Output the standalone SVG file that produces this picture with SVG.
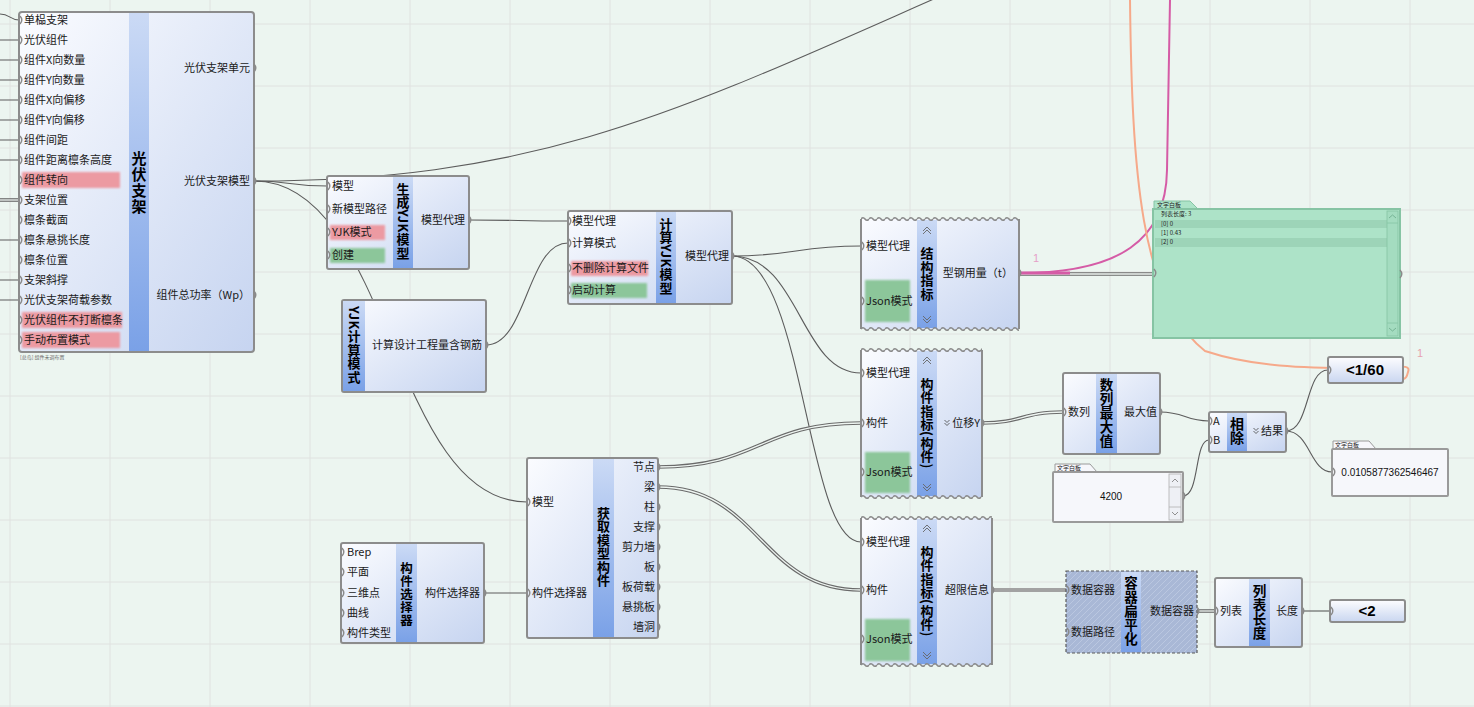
<svg xmlns="http://www.w3.org/2000/svg" width="1474" height="707" viewBox="0 0 1474 707">
<defs>
<linearGradient id="gBox" x1="0" y1="0" x2="1" y2="1"><stop offset="0" stop-color="#fbfcff"/><stop offset="1" stop-color="#c6d4f0"/></linearGradient>
<linearGradient id="gBand" x1="0" y1="0" x2="0" y2="1"><stop offset="0" stop-color="#cbdaf5"/><stop offset="1" stop-color="#7aa1e7"/></linearGradient>
<linearGradient id="gVal" x1="0" y1="0" x2="0" y2="1"><stop offset="0" stop-color="#fdfdff"/><stop offset="1" stop-color="#c9d6f0"/></linearGradient>
<pattern id="hatch" patternUnits="userSpaceOnUse" width="6" height="6"><rect width="6" height="6" fill="#a9b8d6"/><path d="M0,6 L6,0" stroke="#bac7e0" stroke-width="1"/></pattern>
<pattern id="wave" patternUnits="userSpaceOnUse" width="8" height="6"><path d="M0,3 q2,-2.6 4,0 t4,0" fill="none" stroke="#8a8a8a" stroke-width="1.6"/></pattern>
<filter id="soft" x="-10%" y="-30%" width="120%" height="160%"><feGaussianBlur stdDeviation="0.9"/></filter>
<path id="p" d="M0,-4 q3.6,4 0,8" fill="none" stroke="#8a8a8a" stroke-width="1.4"/>
<path id="up" d="M-4,2 l4,-4 l4,4 M-4,5 l4,-4 l4,4" fill="none" stroke="#666" stroke-width="0.9"/>
<path id="dn" d="M-4,-5 l4,4 l4,-4 M-4,-2 l4,4 l4,-4" fill="none" stroke="#666" stroke-width="0.9"/>
<path id="vv" d="M-2.5,-3 l2.5,2.5 l2.5,-2.5 M-2.5,0 l2.5,2.5 l2.5,-2.5" fill="none" stroke="#444" stroke-width="0.8"/>
</defs>
<style>
.t{font-family:"Noto Sans CJK SC","Noto Sans",sans-serif;font-size:11px;fill:#1a1a1a}
.e{text-anchor:end}
.ttl{font-family:"Noto Sans CJK SC","Noto Sans",sans-serif;font-weight:bold;fill:#000;writing-mode:vertical-rl;text-anchor:middle;letter-spacing:0.5px}
.box{fill:url(#gBox);stroke:#8c8c8c;stroke-width:2}
.band{fill:url(#gBand)}
.w{fill:none;stroke:#5c5c5c;stroke-width:1.1}
.wo{fill:none;stroke:#6a6a6a;stroke-width:3.6}
.wi{fill:none;stroke:#eef5f1;stroke-width:1.3}
.red{fill:#ec9aa2;filter:url(#soft)}
.grn{fill:#8cc69a;filter:url(#soft)}
.panel{fill:#f6f7fb;stroke:#9a9a9a;stroke-width:2}
.tab{fill:#f6f7fb;stroke:#9a9a9a;stroke-width:1}
.tiny{font-family:"Noto Sans CJK SC",sans-serif;font-size:6px;fill:#222}
.num{font-family:"Liberation Sans",sans-serif;font-size:10px;fill:#111;text-anchor:middle}
.val{fill:url(#gVal);stroke:#8c8c8c;stroke-width:2}
.vt{font-family:"Liberation Sans",sans-serif;font-weight:bold;font-size:15px;text-anchor:middle;fill:#000}
.side{stroke:#8c8c8c;stroke-width:2;fill:none}
.grid{stroke:#e0e2e0;stroke-width:1}
</style>
<rect width="1474" height="707" fill="#ecf5f0"/>
<g id="grid" class="grid">
<path d="M10,0V707M110,0V707M210,0V707M310,0V707M410,0V707M510,0V707M610,0V707M710,0V707M810,0V707M910,0V707M1010,0V707M1110,0V707M1210,0V707M1310,0V707M1410,0V707"/>
<path d="M0,24H1474M0,86H1474M0,148H1474M0,210H1474M0,272H1474M0,334H1474M0,396H1474M0,458H1474M0,520H1474M0,582H1474M0,644H1474M0,706H1474"/>
</g>

<g id="connectors">
<path class="w" d="M0,14 C10,14 10,20 19,20 M0,40H19 M0,60H19 M0,80H19 M0,100H19 M0,120H19 M0,140H19 M0,160H19 M0,240H19 M0,280H19 M0,300H19"/>
<path class="wo" d="M0,200H19"/><path class="wi" d="M0,200H19"/>
<path class="w" d="M254,181 C290,181 290,186 327,186"/>
<path class="w" d="M254,181 C560,181 700,100 1000,-30"/>
<path class="w" d="M254,181 C391,181 391,502 527,502"/>
<path class="w" d="M469,220 C518,220 518,221 568,221"/>
<path class="w" d="M486,345 C527,345 527,243 568,243"/>
<path class="w" d="M732,256 C796,256 796,246 861,246"/>
<path class="w" d="M732,256 C800,256 800,373 861,373"/>
<path class="w" d="M732,256 C805,256 805,542 861,542"/>
<path class="wo" d="M658,467 C760,467 760,423 861,423"/><path class="wi" d="M658,467 C760,467 760,423 861,423"/>
<path class="wo" d="M658,487 C760,487 760,590 861,590"/><path class="wi" d="M658,487 C760,487 760,590 861,590"/>
<path class="w" d="M484,593H527"/>
<path class="wo" d="M982,423 C1022,423 1022,412 1063,412"/><path class="wi" d="M982,423 C1022,423 1022,412 1063,412"/>
<path class="w" d="M1160,412 C1185,412 1185,421 1209,421"/>
<path class="w" d="M1183,496 C1200,496 1194,440 1209,440"/>
<path class="w" d="M1286,431 C1310,431 1305,370 1328,370"/>
<path class="w" d="M1286,431 C1310,431 1310,472 1332,472"/>
<path fill="none" stroke="#a2a2a2" stroke-width="4" d="M992,590H1066"/>
<path class="wo" d="M1197,611H1215"/><path class="wi" d="M1197,611H1215"/>
<path class="w" d="M1302,611H1330"/>
<path class="wo" d="M1019,274H1153"/><path class="wi" d="M1019,274H1153"/>
<path fill="none" stroke="#d55ba6" stroke-width="2" d="M1019,273 C1120,273 1166,240 1167,170 C1168,110 1169,50 1170,0"/>
<path fill="none" stroke="#d55ba6" stroke-width="3" d="M1019,273 H1070"/>
<path fill="none" stroke="#f6a98a" stroke-width="2" d="M1130,0 C1132,170 1140,300 1205,351 C1250,366 1300,369 1380,368 C1400,367 1411,364 1408,372 C1407,377 1405,379 1403,379"/>
</g>

<g id="n-guangfu">
<rect class="box" x="19" y="12" width="235" height="340" rx="3"/>
<rect class="band" x="129" y="13" width="20" height="338"/>
<rect class="red" x="22" y="172" width="98" height="16"/>
<rect class="red" x="22" y="312" width="100" height="16"/>
<rect class="red" x="22" y="332" width="98" height="16"/>
<text class="ttl" x="139" y="183" font-size="15" style="letter-spacing:1px">光伏支架</text>
<g class="t">
<text x="24" y="24">单榀支架</text><text x="24" y="44">光伏组件</text><text x="24" y="64">组件X向数量</text><text x="24" y="84">组件Y向数量</text>
<text x="24" y="104">组件X向偏移</text><text x="24" y="124">组件Y向偏移</text><text x="24" y="144">组件间距</text><text x="24" y="164">组件距离檩条高度</text>
<text x="24" y="184">组件转向</text><text x="24" y="204">支架位置</text><text x="24" y="224">檩条截面</text><text x="24" y="244">檩条悬挑长度</text>
<text x="24" y="264">檩条位置</text><text x="24" y="284">支架斜撑</text><text x="24" y="304">光伏支架荷载参数</text><text x="24" y="324">光伏组件不打断檩条</text>
<text x="24" y="344">手动布置模式</text>
<text class="e" x="250" y="72">光伏支架单元</text><text class="e" x="250" y="185">光伏支架模型</text><text class="e" x="250" y="299">组件总功率（Wp）</text>
</g>
<use href="#p" x="20" y="20"/><use href="#p" x="20" y="40"/><use href="#p" x="20" y="60"/><use href="#p" x="20" y="80"/><use href="#p" x="20" y="100"/><use href="#p" x="20" y="120"/><use href="#p" x="20" y="140"/><use href="#p" x="20" y="160"/><use href="#p" x="20" y="180"/><use href="#p" x="20" y="200"/><use href="#p" x="20" y="220"/><use href="#p" x="20" y="240"/><use href="#p" x="20" y="260"/><use href="#p" x="20" y="280"/><use href="#p" x="20" y="300"/><use href="#p" x="20" y="320"/><use href="#p" x="20" y="340"/>
<use href="#p" x="254" y="68"/><use href="#p" x="254" y="181"/><use href="#p" x="254" y="295"/>
<text x="20" y="359" font-family="Noto Sans CJK SC,sans-serif" font-size="5" fill="#666">[总岛] 组件未调布置</text>
</g>

<g id="n-shengcheng">
<rect class="box" x="327" y="176" width="142" height="93" rx="2"/>
<rect class="band" x="393" y="177" width="20" height="91"/>
<rect class="red" x="330" y="225" width="55" height="15"/>
<rect class="grn" x="330" y="248" width="55" height="15"/>
<text class="ttl" x="403" y="221" font-size="13">生成YJK模型</text>
<g class="t"><text x="332" y="190">模型</text><text x="332" y="213">新模型路径</text><text x="332" y="236">YJK模式</text><text x="332" y="259">创建</text><text class="e" x="465" y="224">模型代理</text></g>
<use href="#p" x="328" y="186"/><use href="#p" x="328" y="209"/><use href="#p" x="328" y="232"/><use href="#p" x="328" y="255"/><use href="#p" x="469" y="220"/>
</g>

<g id="n-yjkmode">
<rect class="box" x="342" y="300" width="144" height="92" rx="2"/>
<rect class="band" x="343" y="301" width="22" height="90"/>
<text class="ttl" x="354" y="345" font-size="13">YJK计算模式</text>
<text class="t e" x="482" y="349">计算设计工程量含钢筋</text>
<use href="#p" x="486" y="345"/>
</g>

<g id="n-jisuan">
<rect class="box" x="568" y="211" width="164" height="93" rx="2"/>
<rect class="band" x="656" y="212" width="20" height="91"/>
<rect class="red" x="571" y="261" width="77" height="15"/>
<rect class="grn" x="571" y="283" width="76" height="15"/>
<text class="ttl" x="666" y="256" font-size="13">计算YJK模型</text>
<g class="t"><text x="572" y="225">模型代理</text><text x="572" y="247">计算模式</text><text x="572" y="272">不删除计算文件</text><text x="572" y="294">启动计算</text><text class="e" x="729" y="260">模型代理</text></g>
<use href="#p" x="569" y="221"/><use href="#p" x="569" y="243"/><use href="#p" x="569" y="268"/><use href="#p" x="569" y="290"/><use href="#p" x="732" y="256"/>
</g>

<g id="n-jiegou">
<rect x="861" y="219" width="158" height="110" fill="url(#gBox)"/>
<rect class="band" x="917" y="220" width="20" height="108"/>
<path class="side" d="M861,219V329M1019,219V329"/>
<rect transform="translate(861,216)" width="158" height="6" fill="url(#wave)"/>
<rect transform="translate(861,326)" width="158" height="6" fill="url(#wave)"/>
<rect class="grn" x="865" y="280" width="45" height="42"/>
<use href="#up" x="927" y="229"/><use href="#dn" x="927" y="321"/>
<text class="ttl" x="927" y="274" font-size="13">结构指标</text>
<g class="t"><text x="866" y="250">模型代理</text><text x="866" y="305">Json模式</text><text class="e" x="1013" y="277">型钢用量（t）</text></g>
<use href="#p" x="862" y="246"/><use href="#p" x="862" y="301"/><use href="#p" x="1019" y="273"/>
</g>

<g id="n-goujian1">
<rect x="861" y="350" width="121" height="147" fill="url(#gBox)"/>
<rect class="band" x="917" y="351" width="20" height="145"/>
<path class="side" d="M861,350V497M982,350V497"/>
<rect transform="translate(861,347)" width="121" height="6" fill="url(#wave)"/>
<rect transform="translate(861,494)" width="121" height="6" fill="url(#wave)"/>
<rect class="grn" x="865" y="452" width="45" height="41"/>
<use href="#up" x="927" y="359"/><use href="#dn" x="927" y="489"/>
<text class="ttl" x="927" y="423" font-size="13">构件指标(构件)</text>
<use href="#vv" x="947" y="423"/>
<g class="t"><text x="866" y="377">模型代理</text><text x="866" y="427">构件</text><text x="866" y="476">Json模式</text><text class="e" x="980" y="427">位移Y</text></g>
<use href="#p" x="862" y="373"/><use href="#p" x="862" y="423"/><use href="#p" x="862" y="472"/><use href="#p" x="982" y="423"/>
</g>

<g id="n-goujian2">
<rect x="861" y="518" width="131" height="147" fill="url(#gBox)"/>
<rect class="band" x="917" y="519" width="20" height="145"/>
<path class="side" d="M861,518V665M992,518V665"/>
<rect transform="translate(861,515)" width="131" height="6" fill="url(#wave)"/>
<rect transform="translate(861,662)" width="131" height="6" fill="url(#wave)"/>
<rect class="grn" x="865" y="619" width="45" height="42"/>
<use href="#up" x="927" y="527"/><use href="#dn" x="927" y="657"/>
<text class="ttl" x="927" y="591" font-size="13">构件指标(构件)</text>
<g class="t"><text x="866" y="546">模型代理</text><text x="866" y="594">构件</text><text x="866" y="643">Json模式</text><text class="e" x="989" y="594">超限信息</text></g>
<use href="#p" x="862" y="542"/><use href="#p" x="862" y="590"/><use href="#p" x="862" y="639"/><use href="#p" x="992" y="590"/>
</g>

<g id="n-max">
<rect class="box" x="1063" y="373" width="97" height="81" rx="2"/>
<rect class="band" x="1096" y="374" width="21" height="79"/>
<text class="ttl" x="1106.5" y="413" font-size="13.5">数列最大值</text>
<g class="t"><text x="1068" y="416">数列</text><text class="e" x="1157" y="416">最大值</text></g>
<use href="#p" x="1064" y="412"/><use href="#p" x="1160" y="412"/>
</g>

<g id="n-div">
<rect class="box" x="1209" y="412" width="77" height="40" rx="2"/>
<rect class="band" x="1227" y="413" width="20" height="38"/>
<text class="ttl" x="1237" y="431" font-size="14" style="letter-spacing:0">相除</text>
<use href="#vv" x="1256" y="431"/>
<g class="t"><text x="1213" y="425">A</text><text x="1213" y="444">B</text><text class="e" x="1283" y="435">结果</text></g>
<use href="#p" x="1210" y="421"/><use href="#p" x="1210" y="440"/><use href="#p" x="1286" y="431"/>
</g>

<g id="n-lt60">
<rect class="val" x="1328" y="357" width="75" height="26" rx="2"/>
<text class="vt" x="1365" y="375">&lt;1/60</text>
<use href="#p" x="1329" y="370"/>
<text x="1417" y="357" font-family="Liberation Sans,sans-serif" font-size="11" fill="#e7a2ae">1</text>
</g>

<g id="n-result">
<path class="tab" d="M1333,449 V441 H1369 L1376,449"/>
<text class="tiny" x="1335" y="447">文字白板</text>
<rect class="panel" x="1332" y="449" width="116" height="47" rx="1"/>
<text class="num" x="1390" y="476">0.0105877362546467</text>
<use href="#p" x="1333" y="472"/>
</g>

<g id="n-4200">
<path class="tab" d="M1055,472 V464 H1090 L1097,472"/>
<text class="tiny" x="1057" y="470">文字白板</text>
<rect class="panel" x="1053" y="472" width="130" height="50" rx="1"/>
<rect x="1169" y="474" width="12" height="46" fill="#eef0f5" stroke="#b0b0b0" stroke-width="0.8"/>
<path d="M1169,487H1181M1169,507H1181" stroke="#b0b0b0" stroke-width="0.8"/>
<path d="M1172,482 l3,-3 l3,3 M1172,512 l3,3 l3,-3" fill="none" stroke="#777" stroke-width="0.8"/>
<text class="num" x="1111" y="500">4200</text>
<use href="#p" x="1183" y="496"/>
</g>

<g id="n-huoqu">
<rect class="box" x="527" y="458" width="131" height="180" rx="2"/>
<rect class="band" x="593" y="459" width="21" height="178"/>
<text class="ttl" x="603.5" y="547" font-size="13">获取模型构件</text>
<g class="t"><text x="532" y="506">模型</text><text x="532" y="597">构件选择器</text>
<text class="e" x="655" y="471">节点</text><text class="e" x="655" y="491">梁</text><text class="e" x="655" y="511">柱</text><text class="e" x="655" y="531">支撑</text><text class="e" x="655" y="551">剪力墙</text><text class="e" x="655" y="571">板</text><text class="e" x="655" y="591">板荷载</text><text class="e" x="655" y="611">悬挑板</text><text class="e" x="655" y="631">墙洞</text></g>
<use href="#p" x="528" y="502"/><use href="#p" x="528" y="593"/>
<use href="#p" x="658" y="467"/><use href="#p" x="658" y="487"/><use href="#p" x="658" y="507"/><use href="#p" x="658" y="527"/><use href="#p" x="658" y="547"/><use href="#p" x="658" y="567"/><use href="#p" x="658" y="587"/><use href="#p" x="658" y="607"/><use href="#p" x="658" y="627"/>
</g>

<g id="n-xuanze">
<rect class="box" x="341" y="543" width="143" height="100" rx="2"/>
<rect class="band" x="396" y="544" width="21" height="98"/>
<text class="ttl" x="406.5" y="594" font-size="12.5">构件选择器</text>
<g class="t"><text x="347" y="556">Brep</text><text x="347" y="576">平面</text><text x="347" y="597">三维点</text><text x="347" y="617">曲线</text><text x="347" y="637">构件类型</text><text class="e" x="480" y="597">构件选择器</text></g>
<use href="#p" x="342" y="552"/><use href="#p" x="342" y="572"/><use href="#p" x="342" y="593"/><use href="#p" x="342" y="613"/><use href="#p" x="342" y="633"/><use href="#p" x="484" y="593"/>
</g>

<g id="n-flatten">
<rect x="1066" y="571" width="131" height="82" fill="url(#hatch)" stroke="#5a5a5a" stroke-width="1.2" stroke-dasharray="3,2"/>
<rect class="band" x="1121" y="572" width="20" height="80"/>
<text class="ttl" x="1131" y="611" font-size="13.5">容器扁平化</text>
<g class="t"><text x="1071" y="594">数据容器</text><text x="1071" y="636">数据路径</text><text class="e" x="1194" y="615">数据容器</text></g>
<use href="#p" x="1067" y="590"/><use href="#p" x="1067" y="632"/><use href="#p" x="1197" y="611"/>
</g>

<g id="n-listlen">
<rect class="box" x="1215" y="578" width="87" height="69" rx="2"/>
<rect class="band" x="1249" y="579" width="21" height="67"/>
<text class="ttl" x="1259.5" y="612" font-size="13.5">列表长度</text>
<g class="t"><text x="1220" y="615">列表</text><text class="e" x="1298" y="615">长度</text></g>
<use href="#p" x="1216" y="611"/><use href="#p" x="1302" y="611"/>
</g>

<g id="n-lt2">
<rect class="val" x="1330" y="600" width="75" height="22" rx="2"/>
<text class="vt" x="1367" y="616">&lt;2</text>
<use href="#p" x="1331" y="611"/>
</g>

<g id="n-panel">
<path d="M1154,209 V201 H1190 L1198,209" fill="#ade3c8" stroke="#86c4a4" stroke-width="1"/>
<text class="tiny" x="1157" y="207">文字白板</text>
<rect x="1153" y="209" width="247" height="129" fill="#ade3c8" stroke="#86c4a4" stroke-width="2"/>
<rect x="1155" y="220" width="232" height="8" fill="#9dd4b8"/>
<rect x="1155" y="238" width="232" height="9" fill="#9dd4b8"/>
<rect x="1387" y="211" width="11" height="125" fill="#a4dcc0" stroke="#86c4a4" stroke-width="0.8"/>
<path d="M1387,223H1398M1387,323H1398" stroke="#86c4a4" stroke-width="0.8"/>
<path d="M1389,218 l3.5,-3 l3.5,3 M1389,328 l3.5,3 l3.5,-3" fill="none" stroke="#6aa88a" stroke-width="0.8"/>
<g class="tiny"><text x="1161" y="216">列表长度: 3</text><text x="1161" y="226">[0] 0</text><text x="1161" y="235">[1] 0.43</text><text x="1161" y="244">[2] 0</text></g>
<use href="#p" x="1154" y="273"/><use href="#p" x="1400" y="274"/>
<text x="1033" y="262" font-family="Liberation Sans,sans-serif" font-size="11" fill="#e6a0c8">1</text>
</g>
</svg>
